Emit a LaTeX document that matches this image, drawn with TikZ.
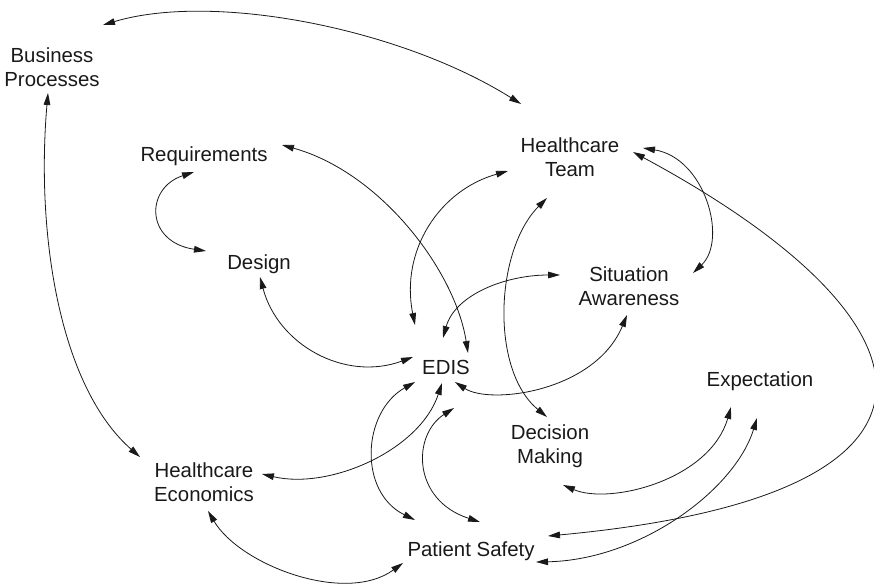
\documentclass[tikz,border=0pt]{standalone}
\usepackage{fontspec}
\setmainfont{Liberation Sans}
\usetikzlibrary{arrows.meta,calc}
\begin{document}
\begin{tikzpicture}[x=0.75pt,y=-0.75pt,
  lbl/.style={font=\fontsize{15.3}{18}\selectfont, align=center, inner sep=0pt, text=black!90},
  link/.style={{Triangle[length=9pt,width=5pt]}-{Triangle[length=9pt,width=5pt]}, line width=0.6pt, black!90}]
\useasboundingbox (0,0) rectangle (874,585);

% concepts
\node[lbl] (bp)   at (52,67)   {Business\\Processes};
\node[lbl] (req)  at (204,156) {Requirements};
\node[lbl] (des)  at (259,264) {Design};
\node[lbl] (edis) at (446,367) {EDIS};
\node[lbl] (ht)   at (570,157) {Healthcare\\Team};
\node[lbl] (sa)   at (629,286) {Situation\\Awareness};
\node[lbl] (exp)  at (760,381) {Expectation};
\node[lbl] (dm)   at (550,446) {Decision\\Making};
\node[lbl] (he)   at (204,482) {Healthcare\\Economics};
\node[lbl] (ps)   at (471,551) {Patient Safety};

% relations
\draw[link] ($(bp)+(51,-42)$) .. controls +(110,-33) and +(-121,-76) .. ($(ht)+(-49,-53)$);
\draw[link] ($(bp)+(-4,26)$) .. controls +(-12,137) and +(-82,-72) .. ($(he)+(-64,-25)$);
\draw[link] ($(req)+(-10,16)$) .. controls +(-49,16) and +(-61,-9) .. ($(des)+(-53,-13)$);
\draw[link] ($(req)+(78,-11)$) .. controls +(98,27) and +(-13,-83) .. ($(edis)+(22,-14)$);
\draw[link] ($(des)+(1,13)$) .. controls +(18,68) and +(-68,25) .. ($(edis)+(-33,-10)$);
\draw[link] ($(edis)+(-31,-42)$) .. controls +(-15,-75) and +(-68,19) .. ($(ht)+(-62,14)$);
\draw[link] ($(ht)+(-23,41)$) .. controls +(-52,52) and +(-57,-47) .. ($(dm)+(-3,-29)$);
\draw[link] ($(edis)+(-3,-29)$) .. controls +(12,-43) and +(-55,0) .. ($(sa)+(-69,-11)$);
\draw[link] ($(edis)+(9,15)$) .. controls +(35,23) and +(-32,77) .. ($(sa)+(-2,29)$);
\draw[link] ($(ht)+(73,-9)$) .. controls +(62,10) and +(35,-33) .. ($(sa)+(64,-13)$);
\draw[link] ($(ht)+(63,-5)$) .. controls +(312,168) and +(442,-41) .. ($(ps)+(77,-15)$);
\draw[link] ($(edis)+(-4,16)$) .. controls +(-22,67) and +(68,16) .. ($(he)+(58,-8)$);
\draw[link] ($(edis)+(-31,15)$) .. controls +(-53,30) and +(-57,-28) .. ($(ps)+(-56,-31)$);
\draw[link] ($(edis)+(8,41)$) .. controls +(-42,27) and +(-68,-22) .. ($(ps)+(9,-29)$);
\draw[link] ($(he)+(4,29)$) .. controls +(32,54) and +(-58,42) .. ($(ps)+(-68,12)$);
\draw[link] ($(dm)+(13,39)$) .. controls +(47,20) and +(-21,73) .. ($(exp)+(-29,26)$);
\draw[link] ($(exp)+(-3,37)$) .. controls +(-22,72) and +(104,-2) .. ($(ps)+(65,11)$);
\end{tikzpicture}
\end{document}
